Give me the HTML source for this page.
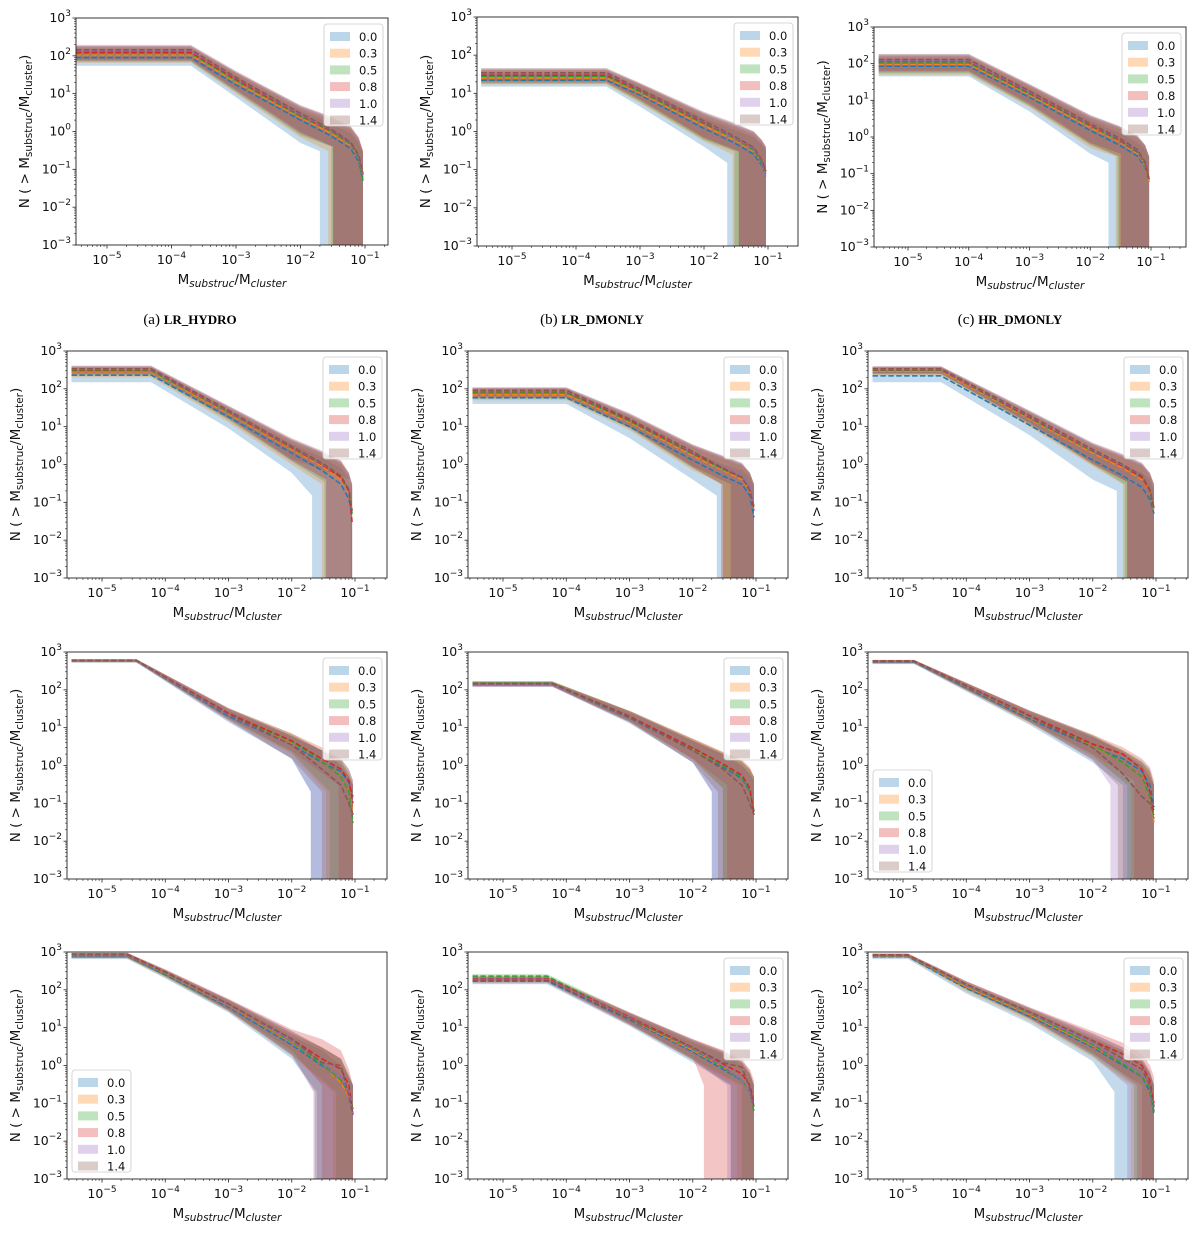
<!DOCTYPE html>
<html><head><meta charset="utf-8"><style>
html,body{margin:0;padding:0;background:#fff;}
svg{display:block;font-family:"DejaVu Sans","Liberation Sans",sans-serif;}
.cap{font-family:"Liberation Serif",serif;font-size:15px;}
</style></head><body>
<svg id="fig" width="1200" height="1233" viewBox="0 0 1200 1233" xmlns="http://www.w3.org/2000/svg">
<text class="cap" x="190" y="324" text-anchor="middle">(a) <tspan font-weight="bold" font-size="13">LR_HYDRO</tspan></text>
<text class="cap" x="592" y="324" text-anchor="middle">(b) <tspan font-weight="bold" font-size="13">LR_DMONLY</tspan></text>
<text class="cap" x="1010" y="324" text-anchor="middle">(c) <tspan font-weight="bold" font-size="13">HR_DMONLY</tspan></text>
</svg>
<script>
const seriesLabels = ["0.0","0.3","0.5","0.8","1.0","1.4"];
const colors = ["#1f77b4","#ff7f0e","#2ca02c","#d62728","#9467bd","#8c564b"];
const yTicks = [-3,-2,-1,0,1,2,3];
const xTicks = [-5,-4,-3,-2,-1];

// Panel A (LR_HYDRO) — rows per x point, columns per series
const xsA = [3.3e-6,2e-4,1e-3,1e-2,3e-2,6e-2,8e-2,9.3e-2];
const medA = [[90,105,115,125,135,145],[90,105,115,125,135,145],[17,20,22,24,26,27],[2.0,2.3,2.5,2.7,2.8,3.0],[0.75,0.9,1.0,1.05,1.1,1.15],[0.35,0.42,0.45,0.5,0.5,0.52],[0.16,0.2,0.2,0.22,0.22,0.24],[0.05,0.06,0.05,0.07,0.07,0.08]];
const hiA = [[140,160,170,180,185,195],[140,160,170,180,185,195],[28,33,35,37,38,40],[3.5,4,4.3,4.6,4.8,5],[1.6,1.9,2.1,2.3,2.4,2.5],[0.9,1.1,1.2,1.3,1.3,1.4],[0.5,0.6,0.6,0.7,0.7,0.7],[0.25,0.3,0.3,0.3,0.3,0.3]];
const loA = [[55,65,70,75,75,80],[55,65,70,75,75,80],[8,10,11,12,12,13],[0.5,0.7,0.8,0.9,0.9,1.0],[0.3,0.3,0.4,0.4,0.4,0.4]];
const cutA = [0.02,0.027,0.03,0.032,0.032,0.032];

// Panel B (LR_DMONLY)
const xsB = [3.3e-6,3e-4,1e-3,1e-2,3e-2,6e-2,8e-2,9.3e-2];
const medB = [[22,25,28,30,33,35],[22,25,28,30,33,35],[9,10,11,12,12.5,13],[1.2,1.4,1.6,1.7,1.8,1.9],[0.5,0.6,0.65,0.7,0.7,0.75],[0.25,0.3,0.32,0.35,0.35,0.38],[0.13,0.15,0.15,0.17,0.17,0.18],[0.07,0.08,0.08,0.09,0.06,0.09]];
const hiB = [[32,36,40,42,44,46],[32,36,40,42,44,46],[14,16,17,18,18,19],[2.2,2.6,2.8,3,3.1,3.3],[1.1,1.3,1.4,1.5,1.6,1.7],[0.7,0.8,0.9,1,1,1],[0.45,0.5,0.55,0.6,0.6,0.6],[0.3,0.35,0.35,0.4,0.4,0.4]];
const loB = [[15,17,18,19,20,21],[15,17,18,19,20,21],[4.5,5.5,6,6.5,7,7],[0.4,0.55,0.6,0.65,0.7,0.7],[0.15,0.25,0.3,0.3,0.3,0.3]];
const cutB = [0.023,0.028,0.03,0.035,0.035,0.035];

// Panel C (HR_DMONLY)
const xsC = [3.3e-6,1e-4,1e-3,1e-2,3e-2,6e-2,8e-2,9.3e-2];
const medC = [[85,95,105,115,120,130],[85,95,105,115,120,130],[12,14,15,16,17,18],[1.5,1.8,2,2.1,2.2,2.3],[0.6,0.75,0.8,0.85,0.9,0.95],[0.3,0.35,0.38,0.4,0.42,0.45],[0.15,0.17,0.18,0.2,0.2,0.21],[0.06,0.06,0.07,0.07,0.07,0.07]];
const hiC = [[130,150,160,170,180,185],[130,150,160,170,180,185],[20,23,25,26,27,28],[2.8,3.2,3.5,3.7,3.9,4],[1.3,1.6,1.8,1.9,2,2],[0.7,0.9,1,1,1.1,1.1],[0.45,0.55,0.6,0.6,0.6,0.6],[0.25,0.3,0.3,0.3,0.3,0.3]];
const loC = [[45,50,55,60,62,65],[45,50,55,60,62,65],[5,6.5,7,7.5,8,8.5],[0.35,0.5,0.6,0.65,0.7,0.7],[0.2,0.3,0.3,0.3,0.35,0.35]];
const cutC = [0.02,0.026,0.028,0.03,0.032,0.032];

// Panel D
const xsD = [3.3e-6,6e-5,1e-3,1e-2,3e-2,6e-2,8e-2,9e-2];
const medD = [[230,280,300,320,330,340],[230,280,300,320,330,340],[18,22,24,25,26,27],[2,2.5,2.7,2.8,2.9,3],[0.7,0.9,1,1,1.05,1.1],[0.3,0.4,0.45,0.45,0.5,0.5],[0.12,0.2,0.2,0.2,0.22,0.22],[0.05,0.06,0.05,0.03,0.06,0.06]];
const hiD = [[300,350,370,390,400,410],[300,350,370,390,400,410],[26,30,32,34,35,36],[3.5,4,4.3,4.5,4.7,5],[1.5,1.8,2,2.1,2.2,2.3],[0.8,1,1.1,1.2,1.2,1.3],[0.4,0.5,0.55,0.6,0.6,0.6],[0.2,0.25,0.3,0.3,0.3,0.3]];
const loD = [[150,200,220,240,250,260],[150,200,220,240,250,260],[9,13,15,16,17,18],[0.6,1,1.2,1.3,1.3,1.4],[0.15,0.3,0.35,0.4,0.4,0.4]];
const cutD = [0.021,0.03,0.033,0.035,0.035,0.085];

// Panel E
const xsE = [3.3e-6,1e-4,1e-3,1e-2,3e-2,6e-2,8e-2,9.3e-2];
const medE = [[58,70,78,85,88,92],[58,70,78,85,88,92],[10,13,14,15,16,16],[1.3,1.7,1.9,2,2.1,2.2],[0.5,0.7,0.75,0.8,0.85,0.8],[0.3,0.4,0.45,0.45,0.5,0.45],[0.15,0.2,0.22,0.22,0.25,0.2],[0.04,0.06,0.07,0.06,0.08,0.07]];
const hiE = [[80,95,100,105,108,110],[80,95,100,105,108,110],[16,19,20,21,22,23],[2.2,2.8,3,3.2,3.3,3.4],[1,1.4,1.5,1.6,1.7,1.7],[0.7,0.9,1,1,1.1,1.1],[0.45,0.55,0.6,0.6,0.6,0.6],[0.25,0.3,0.3,0.3,0.3,0.3]];
const loE = [[40,50,55,58,60,62],[40,50,55,58,60,62],[5,8,9,9.5,10,10],[0.4,0.7,0.8,0.85,0.9,0.9],[0.15,0.3,0.3,0.3,0.3,0.3]];
const cutE = [0.024,0.03,0.03,0.028,0.04,0.04];

// Panel F
const xsF = [3.3e-6,4e-5,1e-3,1e-2,3e-2,6e-2,8e-2,9.3e-2];
const medF = [[220,290,310,320,330,340],[220,290,310,320,330,340],[11,16,17,18,19,20],[1.3,2,2.2,2.3,2.4,2.5],[0.5,0.8,0.9,0.9,0.95,1],[0.25,0.4,0.45,0.45,0.5,0.5],[0.12,0.2,0.2,0.2,0.22,0.22],[0.05,0.06,0.06,0.07,0.07,0.07]];
const hiF = [[290,350,370,380,390,400],[290,350,370,380,390,400],[17,22,24,25,26,27],[2.3,3,3.3,3.5,3.6,3.8],[1,1.5,1.6,1.7,1.8,1.9],[0.6,0.9,1,1,1.1,1.1],[0.4,0.5,0.55,0.6,0.6,0.6],[0.2,0.25,0.3,0.3,0.3,0.3]];
const loF = [[150,220,240,250,255,260],[150,220,240,250,255,260],[6,10,11,12,12,13],[0.4,0.9,1,1,1.1,1.1],[0.2,0.3,0.3,0.35,0.35,0.35]];
const cutF = [0.024,0.03,0.032,0.035,0.035,0.035];

// Panel G
const xsG = [3.3e-6,3.5e-5,1e-3,1e-2,3e-2,6e-2,8e-2,9.3e-2];
const medG = [[570,580,590,600,590,600],[570,580,590,600,590,600],[20,22,23,24,22,23],[3.5,4,4.2,4.5,3.5,3.5],[1.2,1.3,1.3,1.5,0.8,0.8],[0.7,0.5,0.5,0.8,0.3,0.3],[0.35,0.2,0.2,0.4,0.1,0.1],[0.15,0.05,0.03,0.1,0.05,0.05]];
const hiG = [[620,630,640,650,640,650],[620,630,640,650,640,650],[28,30,32,33,32,33],[6,6.5,7,7,6,6],[2.5,2.5,2.5,3,2.5,2.5],[1.5,1.3,1.3,1.5,1,1],[0.8,0.6,0.6,0.8,0.5,0.5],[0.4,0.3,0.3,0.4,0.3,0.3]];
const loG = [[520,530,540,550,540,550],[520,530,540,550,540,550],[14,16,17,18,15,16],[1.5,2,2.2,2.4,1.5,1.5],[0.2,0.2,0.2,0.3,0.2,0.2]];
const cutG = [0.02,0.035,0.04,0.055,0.02,0.03];

// Panel H
const xsH = [3.3e-6,6e-5,1e-3,1e-2,3e-2,6e-2,8e-2,9.3e-2];
const medH = [[140,145,150,145,140,145],[140,145,150,145,140,145],[18,19,20,20,19,19],[2.5,2.7,2.8,2.9,2.5,2.5],[0.9,1,1,1.1,0.8,0.8],[0.45,0.5,0.5,0.55,0.3,0.3],[0.2,0.22,0.22,0.25,0.1,0.1],[0.06,0.06,0.06,0.05,0.05,0.05]];
const hiH = [[160,165,170,165,160,165],[160,165,170,165,160,165],[25,27,28,28,27,27],[4.5,5,5,5.2,4.5,4.5],[2,2.2,2.2,2.3,2,2],[1.2,1.3,1.3,1.4,1,1],[0.8,0.8,0.8,0.9,0.6,0.6],[0.5,0.5,0.5,0.5,0.4,0.4]];
const loH = [[120,125,130,125,120,125],[120,125,130,125,120,125],[13,14,15,15,14,14],[1.2,1.4,1.5,1.5,1.2,1.2],[0.2,0.25,0.25,0.3,0.2,0.2]];
const cutH = [0.02,0.03,0.03,0.035,0.02,0.025];

// Panel I
const xsI = [3.3e-6,1.5e-5,1e-3,1e-2,3e-2,6e-2,8e-2,9.3e-2];
const medI = [[550,570,580,580,570,570],[550,570,580,580,570,570],[17,19,20,21,20,20],[3,3.3,3.5,3.7,3,3],[1.5,1.2,1.2,2,0.6,0.6],[0.7,0.5,0.5,0.8,0.15,0.15],[0.3,0.15,0.15,0.2,0.1,0.1],[0.08,0.03,0.04,0.06,0.05,0.05]];
const hiI = [[600,610,620,620,610,610],[600,610,620,620,610,610],[25,27,28,29,28,28],[5.5,6,6.5,6.5,6,6],[2.5,2.5,2.5,3,2.2,2.2],[1.3,1.2,1.2,1.5,1,1],[0.8,0.7,0.7,0.9,0.5,0.5],[0.3,0.3,0.3,0.4,0.3,0.3]];
const loI = [[480,500,510,510,500,500],[480,500,510,510,500,500],[12,13,14,15,14,14],[1.2,1.6,1.8,2,1.4,1.4],[0.3,0.3,0.3,0.4,0.3,0.3]];
const cutI = [0.03,0.04,0.035,0.045,0.019,0.025];

// Panel J
const xsJ = [3.3e-6,2.5e-5,1e-4,1e-3,1e-2,3e-2,6e-2,8e-2,9.3e-2];
const medJ = [[800,830,850,880,860,850],[800,830,850,880,860,850],[250,270,280,300,290,290],[35,38,40,42,40,42],[3.5,4,4.2,5,4.5,5],[1,1.1,1.1,1.5,1.2,1.2],[0.4,0.35,0.4,0.8,0.5,1],[0.15,0.15,0.2,0.3,0.2,0.15],[0.05,0.05,0.07,0.05,0.05,0.05]];
const hiJ = [[900,920,950,950,940,940],[900,920,950,950,940,940],[300,320,330,350,340,340],[50,52,55,58,55,56],[6,7,7,9,8,8],[2.5,3,3,5,3,3],[1,1.5,1.5,2.5,1.5,1.5],[0.5,0.5,0.6,0.8,0.5,0.5],[0.3,0.3,0.3,0.3,0.3,0.3]];
const loJ = [[650,680,700,720,700,700],[650,680,700,720,700,700],[200,210,220,240,230,230],[25,27,28,30,28,29],[1.5,1.8,2,2.5,1.8,2],[0.2,0.2,0.2,0.3,0.2,0.2]];
const cutJ = [0.025,0.045,0.05,0.03,0.022,0.023];

// Panel K
const xsK = [3.3e-6,5e-5,1e-3,1e-2,3e-2,6e-2,8e-2,9.3e-2];
const medK = [[170,190,230,200,190,180],[170,190,230,200,190,180],[16,17,18,19,18,17],[2.3,2.5,2.7,3,2.8,3],[0.8,0.9,0.9,1.1,1,1.2],[0.4,0.4,0.4,0.6,0.4,0.9],[0.2,0.2,0.2,0.3,0.2,0.25],[0.08,0.08,0.06,0.1,0.08,0.08]];
const hiK = [[200,220,260,230,220,210],[200,220,260,230,220,210],[22,24,25,26,25,24],[4,4.5,4.5,5,4.8,5],[2,2.2,2.2,2.5,2.3,2.5],[1,1.2,1.2,1.3,1.2,1.5],[0.6,0.6,0.6,0.8,0.6,0.7],[0.3,0.3,0.3,0.4,0.3,0.3]];
const loK = [[140,160,190,170,160,150],[140,160,190,170,160,150],[11,12,13,13,12,12],[1.2,1.4,1.5,1.6,1.4,1.4],[0.3,0.3,0.3,0.3,0.3,0.3]];
const cutK = [0.04,0.05,0.06,0.015,0.035,0.04];

// Panel L
const xsL = [3.3e-6,1.2e-5,1e-4,1e-3,1e-2,3e-2,6e-2,8e-2,9.3e-2];
const medL = [[750,800,820,840,830,820],[750,800,820,840,830,820],[110,120,130,140,135,140],[20,22,24,26,25,26],[3,3.3,3.5,4.5,4,4.5],[1,1.1,1.1,2,1.3,1.5],[0.5,0.5,0.5,1,0.6,0.8],[0.2,0.25,0.25,0.4,0.3,0.3],[0.05,0.06,0.06,0.1,0.08,0.08]];
const hiL = [[850,880,900,920,900,900],[850,880,900,920,900,900],[140,150,160,170,165,170],[28,30,32,35,33,34],[5,5.5,6,8,7,7],[2.2,2.5,2.5,4,3,3],[1.2,1.3,1.3,2,1.5,1.5],[0.6,0.6,0.6,1,0.7,0.7],[0.3,0.3,0.3,0.5,0.3,0.3]];
const loL = [[650,700,720,740,730,720],[650,700,720,740,730,720],[80,90,100,110,105,110],[13,15,17,18,17,18],[1.3,1.6,1.8,2.2,1.8,2],[0.2,0.3,0.3,0.3,0.3,0.3]];
const cutL = [0.022,0.04,0.045,0.05,0.035,0.06];

const NS = "http://www.w3.org/2000/svg";
const svg = document.getElementById("fig");
function mk(tag, attrs, parent){const e=document.createElementNS(NS,tag);for(const k in attrs)e.setAttribute(k,attrs[k]);(parent||svg).appendChild(e);return e;}

const R2 = [351,652,952], C2 = [67,468,868];
const panels = [
 {id:"a",L:76,R:388,T:18,B:245,p5:107,p1:365,xs:xsA,med:medA,hi:hiA,lo:loA,cut:cutA,leg:"tr"},
 {id:"b",L:477,R:798,T:17,B:246,p5:512,p1:768,xs:xsB,med:medB,hi:hiB,lo:loB,cut:cutB,leg:"tr"},
 {id:"c",L:874,R:1186,T:27,B:247,p5:908,p1:1151,xs:xsC,med:medC,hi:hiC,lo:loC,cut:cutC,leg:"tr"},
 {id:"d",L:C2[0],R:C2[0]+320,T:R2[0],B:R2[0]+227,p5:C2[0]+35,p1:C2[0]+288,xs:xsD,med:medD,hi:hiD,lo:loD,cut:cutD,leg:"tr"},
 {id:"e",L:C2[1],R:C2[1]+320,T:R2[0],B:R2[0]+227,p5:C2[1]+35,p1:C2[1]+288,xs:xsE,med:medE,hi:hiE,lo:loE,cut:cutE,leg:"tr"},
 {id:"f",L:C2[2],R:C2[2]+320,T:R2[0],B:R2[0]+227,p5:C2[2]+35,p1:C2[2]+288,xs:xsF,med:medF,hi:hiF,lo:loF,cut:cutF,leg:"tr"},
 {id:"g",L:C2[0],R:C2[0]+320,T:R2[1],B:R2[1]+227,p5:C2[0]+35,p1:C2[0]+288,xs:xsG,med:medG,hi:hiG,lo:loG,cut:cutG,leg:"tr"},
 {id:"h",L:C2[1],R:C2[1]+320,T:R2[1],B:R2[1]+227,p5:C2[1]+35,p1:C2[1]+288,xs:xsH,med:medH,hi:hiH,lo:loH,cut:cutH,leg:"tr"},
 {id:"i",L:C2[2],R:C2[2]+320,T:R2[1],B:R2[1]+227,p5:C2[2]+35,p1:C2[2]+288,xs:xsI,med:medI,hi:hiI,lo:loI,cut:cutI,leg:"bl"},
 {id:"j",L:C2[0],R:C2[0]+320,T:R2[2],B:R2[2]+227,p5:C2[0]+35,p1:C2[0]+288,xs:xsJ,med:medJ,hi:hiJ,lo:loJ,cut:cutJ,leg:"bl"},
 {id:"k",L:C2[1],R:C2[1]+320,T:R2[2],B:R2[2]+227,p5:C2[1]+35,p1:C2[1]+288,xs:xsK,med:medK,hi:hiK,lo:loK,cut:cutK,leg:"tr"},
 {id:"l",L:C2[2],R:C2[2]+320,T:R2[2],B:R2[2]+227,p5:C2[2]+35,p1:C2[2]+288,xs:xsL,med:medL,hi:hiL,lo:loL,cut:cutL,leg:"tr"}
];

panels.forEach(p=>{
  const ppd=(p.p1-p.p5)/4;
  const X=v=>p.p5+(Math.log10(v)+5)*ppd;
  const Y=v=>p.B-(Math.log10(v)+3)*(p.B-p.T)/6;
  const g=mk("g",{});
  
  
  const cp=mk("clipPath",{id:"clip-"+p.id},g);
  mk("rect",{x:p.L,y:p.T,width:p.R-p.L,height:p.B-p.T},cp);
  const plot=mk("g",{"clip-path":"url(#clip-"+p.id+")"},g);
  const n=p.xs.length;
  // bands
  for(let s=0;s<6;s++){
    const pts=[];
    for(let i=0;i<n;i++) pts.push([X(p.xs[i]),Y(p.hi[i][s])]);
    pts.push([X(p.xs[n-1]),p.B+2]);
    pts.push([X(p.cut[s]),p.B+2]);
    const nl=p.lo.length;
    pts.push([X(p.cut[s]),Y(p.lo[nl-1][s])]);
    for(let i=nl-2;i>=0;i--) pts.push([X(p.xs[i]),Y(p.lo[i][s])]);
    const band=mk("polygon",{points:pts.map(q=>q[0].toFixed(1)+","+q[1].toFixed(1)).join(" "),fill:colors[s],"fill-opacity":"0.27",stroke:"none"},plot);
    
    
  }
  // median lines
  for(let s=0;s<6;s++){
    const pts=[];
    for(let i=0;i<n;i++) pts.push(X(p.xs[i]).toFixed(1)+","+Y(p.med[i][s]).toFixed(1));
    const ln=mk("polyline",{points:pts.join(" "),fill:"none",stroke:colors[s],"stroke-width":"1.5","stroke-dasharray":"5.5,2.4"},plot);
    
    
  }
  // frame
  const fr=mk("rect",{x:p.L,y:p.T,width:p.R-p.L,height:p.B-p.T,fill:"none",stroke:"#222","stroke-width":"0.9"},g);
  
  
  // y ticks
  yTicks.forEach(t=>{
    const y=Y(Math.pow(10,t));
    mk("line",{x1:p.L-3.5,x2:p.L,y1:y,y2:y,stroke:"#222","stroke-width":"0.8"},g);
    const tx=mk("text",{x:p.L-5,y:y+4,"text-anchor":"end","font-size":"12.5",fill:"#111"},g);
    
    
    tx.textContent="10";
    const sp=mk("tspan",{dy:"-6","font-size":"9"},tx);
    sp.textContent=(t<0?"\u2212":"")+Math.abs(t);
    if(t<3) for(let k=2;k<10;k++){const yy=Y(k*Math.pow(10,t));mk("line",{x1:p.L-2,x2:p.L,y1:yy,y2:yy,stroke:"#222","stroke-width":"0.6"},g);}
  });
  // x ticks
  xTicks.forEach(t=>{
    const x=X(Math.pow(10,t));
    mk("line",{x1:x,x2:x,y1:p.B,y2:p.B+3.5,stroke:"#222","stroke-width":"0.8"},g);
    const tx=mk("text",{x:x,y:p.B+19,"text-anchor":"middle","font-size":"12.5",fill:"#111"},g);
    
    
    tx.textContent="10";
    const sp=mk("tspan",{dy:"-6","font-size":"9"},tx);
    sp.textContent="\u2212"+Math.abs(t);
  });
  for(let d=-6;d<=0;d++)for(let k=2;k<10;k++){const x=X(k*Math.pow(10,d));if(x>p.L&&x<p.R)mk("line",{x1:x,x2:x,y1:p.B,y2:p.B+2,stroke:"#222","stroke-width":"0.6"},g);}
  // axis titles
  const cx=(p.L+p.R)/2;
  const xt=mk("text",{x:cx,y:p.B+39,"text-anchor":"middle","font-size":"13.5",fill:"#111"},g);
  
  
  xt.innerHTML='M<tspan font-style="italic" font-size="10.5" dy="3">substruc</tspan><tspan dy="-3">/M</tspan><tspan font-style="italic" font-size="10.5" dy="3">cluster</tspan>';
  const cy=(p.T+p.B)/2;
  const yt=mk("text",{x:0,y:0,"text-anchor":"middle","font-size":"13.5",fill:"#111",transform:"translate("+(p.L-47)+","+cy+") rotate(-90)"},g);
  
  
  yt.innerHTML='N ( &gt; M<tspan font-size="10.5" dy="3">substruc</tspan><tspan dy="-3">/M</tspan><tspan font-size="10.5" dy="3">cluster</tspan><tspan dy="-3">)</tspan>';
  // legend
  const lw=59,lh=102;
  let lx,ly;
  if(p.leg==="tr"){lx=p.R-lw-5;ly=p.T+6;} else {lx=p.L+5;ly=p.T+118;}
  const lg=mk("g",{},g);
  
  
  mk("rect",{x:lx,y:ly,width:lw,height:lh,rx:3,fill:"#fff","fill-opacity":"0.8",stroke:"#ccc","stroke-width":"0.8"},lg);
  seriesLabels.forEach((lab,s)=>{
    const ey=ly+8+s*16.7;
    const ent=mk("g",{},lg);
    
    
    mk("rect",{x:lx+6,y:ey,width:20,height:9,fill:colors[s],"fill-opacity":"0.3"},ent);
    const t=mk("text",{x:lx+35,y:ey+9,"font-size":"11.5",fill:"#111"},ent);
    t.textContent=lab;
  });
});
</script>
</body></html>
